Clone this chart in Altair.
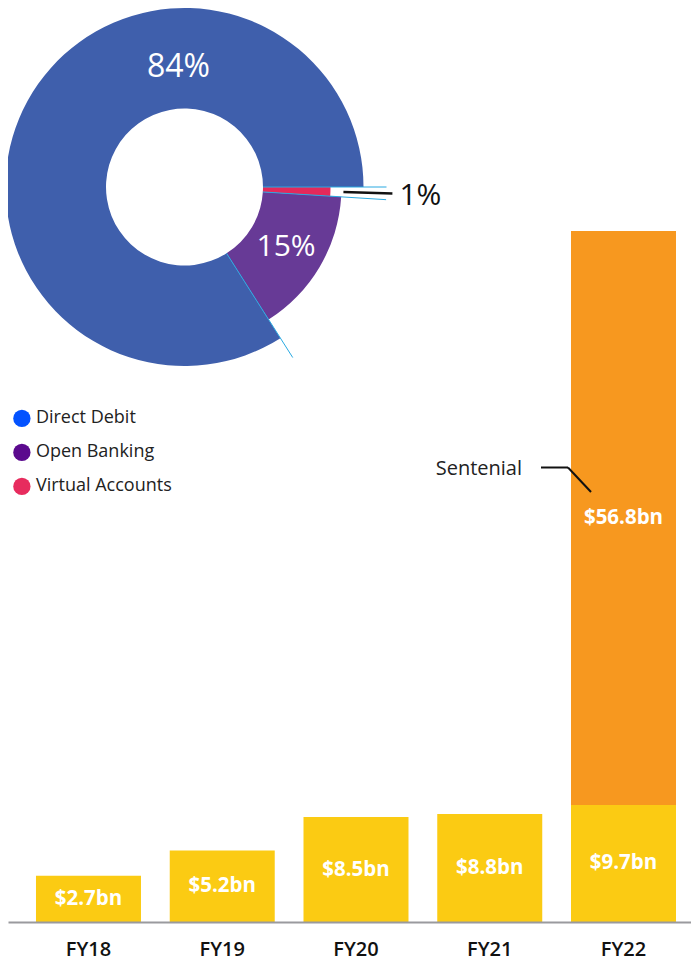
import math
import altair as alt
import pandas as pd

# ---------------- data ----------------
categories = ["Direct Debit", "Open Banking", "Virtual Accounts"]
shares = [84, 15, 1]
angle_order = ["Virtual Accounts", "Open Banking", "Direct Debit"]  # clockwise from 3 o'clock

years = ["FY18", "FY19", "FY20", "FY21", "FY22"]
payments = [2.7, 5.2, 8.5, 8.8, 9.7]
sentenial_name = "Sentenial"
sentenial_year = "FY22"
sentenial_value = 56.8

# ---------------- styles / layout ----------------
W, H, PAD_B = 683, 914, 44
Y_MIN, Y_MAX = -1.88, 88.57
CX, CY = 176.5, 179
R_IN = 78.5
R_OUT = {"Direct Debit": 179, "Open Banking": 157, "Virtual Accounts": 146}
R_LEAD = 202
DONUT_COL = {"Direct Debit": "#3F5FAC", "Open Banking": "#673A96", "Virtual Accounts": "#E4295B"}
LEGEND_COL = ["#0352FF", "#5B0A8E", "#E72C5E"]
YELLOW, ORANGE = "#FBCB13", "#F7981F"
CYAN = "#29A9E1"
FONT = "Open Sans"

# ---------------- tables ----------------
share_of = dict(zip(categories, shares))
rows, acc = [], 0
for c in angle_order:
    s = share_of[c]
    rows.append({"category": c, "share": s, "start": acc, "end": acc + s,
                 "mid": acc + s / 2, "label": f"{s}%"})
    acc += s
donut_df = pd.DataFrame(rows)

bar_df = pd.DataFrame({"year": years, "hi": payments})
bar_df["lo"] = Y_MIN
bar_df["mid"] = (bar_df["lo"] + bar_df["hi"]) / 2
bar_df["label"] = [f"${v}bn" for v in payments]

base_val = payments[years.index(sentenial_year)]
sent_df = pd.DataFrame({"year": [sentenial_year], "lo": [base_val],
                        "hi": [base_val + sentenial_value],
                        "mid": [base_val + sentenial_value / 2],
                        "label": [f"${sentenial_value}bn"]})

# ---------------- encodings ----------------
X = alt.X("year:N", sort=years,
          scale=alt.Scale(domain=years, paddingInner=0.215, paddingOuter=0.1607, align=0.651),
          axis=alt.Axis(title=None, ticks=False, grid=False, labelAngle=0, labelFont=FONT,
                        labelFontSize=20, labelFontWeight=600, labelColor="#111111",
                        labelPadding=17, domainColor="#9A9A9E", domainWidth=2, zindex=1))
YS = alt.Scale(domain=[Y_MIN, Y_MAX], nice=False, zero=False)
THETA = alt.Scale(domain=[0, 100], range=[math.pi / 2, math.pi / 2 + 2 * math.pi])

bars = alt.Chart(bar_df).mark_bar(color=YELLOW).encode(
    x=X, y=alt.Y("hi:Q", scale=YS, axis=None), y2="lo:Q")
sent_bar = alt.Chart(sent_df).mark_bar(color=ORANGE).encode(
    x=X, y=alt.Y("hi:Q", scale=YS, axis=None), y2="lo:Q")
bar_text = alt.Chart(bar_df).mark_text(font=FONT, fontSize=20.5, fontWeight="bold",
                                       color="white", baseline="middle").encode(
    x=X, y=alt.Y("mid:Q", scale=YS, axis=None), text="label:N")
sent_text = alt.Chart(sent_df).mark_text(font=FONT, fontSize=20.5, fontWeight="bold",
                                         color="white", baseline="middle").encode(
    x=X, y=alt.Y("mid:Q", scale=YS, axis=None), text="label:N")

# donut slices
arcs = []
for c in angle_order:
    arcs.append(
        alt.Chart(donut_df).transform_filter(alt.datum.category == c)
        .mark_arc(innerRadius=R_IN, outerRadius=R_OUT[c], color=DONUT_COL[c])
        .encode(theta=alt.Theta("start:Q", scale=THETA, stack=False),
                theta2="end:Q", x=alt.value(CX), y=alt.value(CY))
    )

ang = "(PI/2 + datum.start/100*2*PI)"
cyan_lines = alt.Chart(donut_df).transform_calculate(
    px1=f"{CX} + {R_IN}*sin({ang})", py1=f"{CY} - {R_IN}*cos({ang})",
    px2=f"{CX} + {R_LEAD}*sin({ang})", py2=f"{CY} - {R_LEAD}*cos({ang})",
).mark_rule(color=CYAN, strokeWidth=1).encode(
    x=alt.X("px1:Q", scale=None, axis=None), y=alt.Y("py1:Q", scale=None, axis=None),
    x2="px2:Q", y2="py2:Q")

angm = "(PI/2 + datum.mid/100*2*PI)"
one_pct_line = alt.Chart(donut_df).transform_filter(
    alt.datum.category == "Virtual Accounts").transform_calculate(
    px1=f"{CX} + 159*sin({angm})", py1=f"{CY} - 159*cos({angm})",
    px2=f"{CX} + 208*sin({angm})", py2=f"{CY} - 208*cos({angm})",
).mark_rule(color="#111111", strokeWidth=2.5).encode(
    x=alt.X("px1:Q", scale=None, axis=None), y=alt.Y("py1:Q", scale=None, axis=None),
    x2="px2:Q", y2="py2:Q")

lbl_84 = alt.Chart(donut_df).transform_filter(alt.datum.category == "Direct Debit").mark_text(
    font=FONT, fontSize=32, color="white", baseline="middle").encode(
    x=alt.value(170.5), y=alt.value(58.5), text="label:N")
lbl_15 = alt.Chart(donut_df).transform_filter(alt.datum.category == "Open Banking").mark_text(
    font=FONT, fontSize=30, color="white", baseline="middle", radius=118).encode(
    theta=alt.Theta("mid:Q", scale=THETA, stack=False),
    x=alt.value(CX), y=alt.value(CY), text="label:N")
lbl_1 = alt.Chart(donut_df).transform_filter(alt.datum.category == "Virtual Accounts").mark_text(
    font=FONT, fontSize=30, color="#111111", baseline="middle", radius=236).encode(
    theta=alt.Theta("mid:Q", scale=THETA, stack=False),
    x=alt.value(CX), y=alt.value(CY + 2), text="label:N")

# Sentenial annotation
sent_name_df = pd.DataFrame({"name": [sentenial_name]})
sent_lbl = alt.Chart(sent_name_df).mark_text(
    font=FONT, fontSize=20, color="#222222", align="right", baseline="middle").encode(
    x=alt.value(514), y=alt.value(461), text="name:N")
lead_h = alt.Chart(sent_name_df).mark_rule(color="#111111", strokeWidth=2).encode(
    x=alt.value(533), x2=alt.value(560), y=alt.value(459.5))
lead_d = alt.Chart(sent_name_df).mark_rule(color="#111111", strokeWidth=2).encode(
    x=alt.value(560), x2=alt.value(583), y=alt.value(459.5), y2=alt.value(484))

# legend (library legend on an invisible layer)
legend_layer = alt.Chart(pd.DataFrame({"category": categories})).mark_point(
    filled=True, opacity=0, shape="circle").encode(
    x=alt.value(0), y=alt.value(0),
    color=alt.Color("category:N", sort=categories,
                    scale=alt.Scale(domain=categories, range=LEGEND_COL),
                    legend=alt.Legend(title=None, orient="none", legendX=4.9, legendY=401.4,
                                      symbolType="circle", symbolSize=300, symbolOpacity=1,
                                      symbolStrokeWidth=0, labelFont=FONT, labelFontSize=18,
                                      labelColor="#222222", labelOffset=5, rowPadding=16,
                                      padding=0)))

chart = alt.layer(
    bars, sent_bar, bar_text, sent_text, *arcs, cyan_lines, one_pct_line,
    lbl_84, lbl_15, lbl_1, sent_lbl, lead_h, lead_d, legend_layer
).properties(
    width=W, height=H,
    padding={"left": 0, "top": 0, "right": 0, "bottom": PAD_B},
    autosize=alt.AutoSizeParams(type="none"),
    background="white",
).configure_view(stroke=None)

chart.save("out.html", embed_options={"renderer": "svg", "actions": False})
